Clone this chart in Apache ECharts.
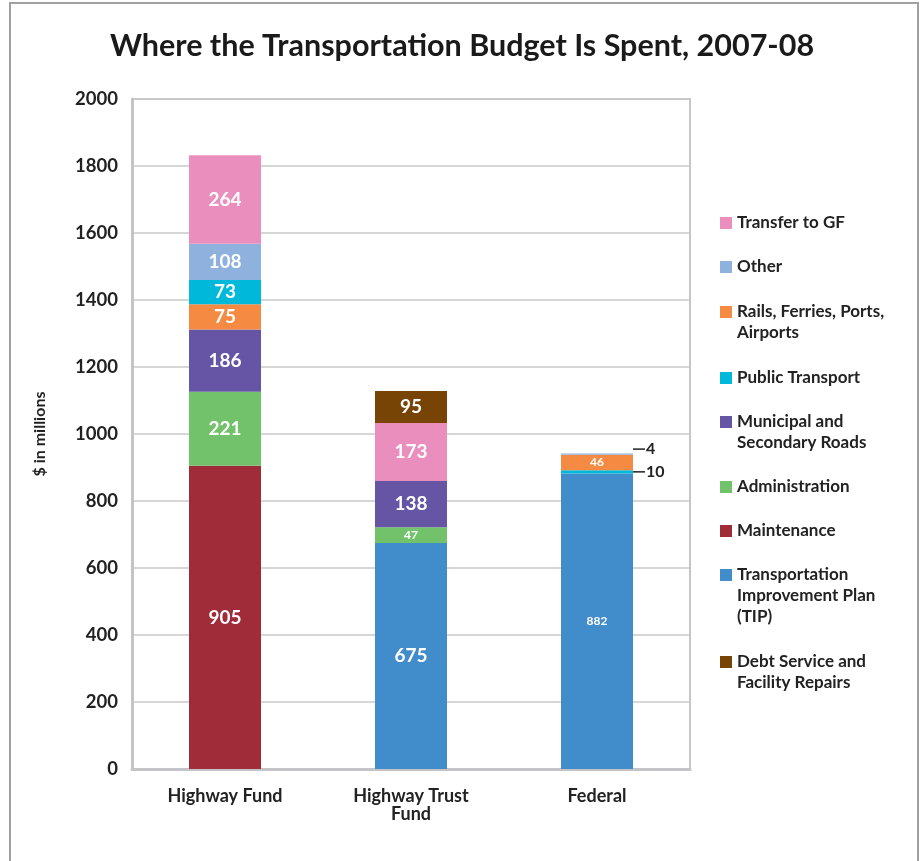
<!DOCTYPE html>
<html>
<head>
<meta charset="utf-8">
<script src="https://cdn.jsdelivr.net/npm/echarts@6/dist/echarts.min.js"></script>
<style>
html,body{margin:0;padding:0;background:#fff;}
#chart{width:924px;height:861px;}
</style>
</head>
<body>
<div id="chart"></div>
<script>
// ---- Data ----
var categories = ['Highway Fund', 'Highway Trust\nFund', 'Federal'];
var yTicks = [0, 200, 400, 600, 800, 1000, 1200, 1400, 1600, 1800, 2000];

var tip            = [null, 675, 882];
var maintenance    = [905, null, null];
var administration = [221, 47, null];
var municipal      = [186, 138, null];
var publicTransport= [73, null, 10];
var rails          = [75, null, 46];
var other          = [108, null, 4];
var transferGF     = [264, 173, null];
var debtService    = [null, 95, null];

var colors = {
  tip: '#418DCB', maintenance: '#A02C3A', administration: '#72C26C',
  municipal: '#6655A5', publicTransport: '#00B8D9', rails: '#F58B43',
  other: '#8EB2DD', transferGF: '#EA8FBD', debtService: '#784406'
};

var FONT = 'Lato, "Noto Sans", sans-serif';

function lbl(size) {
  return { show: true, position: 'inside', color: '#fff', fontSize: size, fontWeight: 'bold', fontFamily: FONT };
}
function outsideLabel(txt, dy) {
  return {
    show: true, position: 'right', distance: 0, offset: [0, dy],
    formatter: '{l|}{t|' + txt + '}',
    rich: {
      l: { width: 12, height: 1.5, backgroundColor: '#222', verticalAlign: 'middle' },
      t: { fontSize: 16, fontWeight: 'bold', color: '#222', fontFamily: FONT, verticalAlign: 'middle', padding: [0, 0, 0, 1] }
    }
  };
}
function pick(arr, idxs) { return arr.map(function (v, i) { return idxs.indexOf(i) >= 0 ? v : null; }); }
function withLabels(arr, labelFn) {
  return arr.map(function (v, i) { return v == null ? null : { value: v, label: labelFn(i) }; });
}

var series = [
  { name: 'Transportation Improvement Plan (TIP)', color: colors.tip,
    data: withLabels(tip, function (i) { return lbl(i === 2 ? 12 : 19); }) },
  { name: 'Maintenance', color: colors.maintenance, data: withLabels(maintenance, function () { return lbl(19); }) },
  { name: 'Administration', color: colors.administration,
    data: withLabels(administration, function (i) { return lbl(i === 1 ? 12 : 19); }) },
  { name: 'Municipal and Secondary Roads', color: colors.municipal, data: withLabels(municipal, function () { return lbl(19); }) },
  // Federal: public transport sits below rails
  { name: 'Public Transport', color: colors.publicTransport,
    data: withLabels(pick(publicTransport, [2]), function () { return outsideLabel('10', 0); }) },
  { name: 'Rails, Ferries, Ports, Airports', color: colors.rails,
    data: withLabels(rails, function (i) { return lbl(i === 2 ? 12 : 19); }) },
  // Highway Fund: public transport sits above rails
  { name: 'Public Transport', color: colors.publicTransport,
    data: withLabels(pick(publicTransport, [0]), function () { return lbl(19); }) },
  { name: 'Other', color: colors.other,
    data: withLabels(other, function (i) { return i === 2 ? outsideLabel('4', -5) : lbl(19); }) },
  { name: 'Transfer to GF', color: colors.transferGF, data: withLabels(transferGF, function () { return lbl(19); }) },
  { name: 'Debt Service and Facility Repairs', color: colors.debtService, data: withLabels(debtService, function () { return lbl(19); }) }
].map(function (s) {
  return {
    name: s.name, type: 'bar', stack: 'total', barWidth: 72,
    itemStyle: { color: s.color }, data: s.data, emphasis: { disabled: true }
  };
});

var legendItems = [
  { name: 'Transfer to GF', text: 'Transfer to GF', c: 223 },
  { name: 'Other', text: 'Other', c: 267 },
  { name: 'Rails, Ferries, Ports, Airports', text: 'Rails, Ferries, Ports,\nAirports', c: 312 },
  { name: 'Public Transport', text: 'Public Transport', c: 378 },
  { name: 'Municipal and Secondary Roads', text: 'Municipal and\nSecondary Roads', c: 422 },
  { name: 'Administration', text: 'Administration', c: 487 },
  { name: 'Maintenance', text: 'Maintenance', c: 531 },
  { name: 'Transportation Improvement Plan (TIP)', text: 'Transportation\nImprovement Plan\n(TIP)', c: 575 },
  { name: 'Debt Service and Facility Repairs', text: 'Debt Service and\nFacility Repairs', c: 662 }
];
var LH = 21;
var legends = legendItems.map(function (it) {
  var lines = it.text.split('\n').length;
  // leading blank lines so that the first text line is centred on the icon
  var shown = new Array(lines).join('\n') + it.text;
  var boxH = (2 * lines - 1) * LH;
  return {
    left: 720, top: it.c - boxH / 2, padding: 0, orient: 'vertical',
    itemWidth: 12, itemHeight: 12, icon: 'rect', selectedMode: false,
    data: [it.name],
    formatter: function () { return shown; },
    textStyle: { fontSize: 17, fontWeight: 'bold', color: '#222', fontFamily: FONT, lineHeight: LH }
  };
});

var option = {
  backgroundColor: '#fff',
  animation: false,
  title: {
    text: 'Where the Transportation Budget Is Spent, 2007-08',
    left: 'center', top: 26,
    textStyle: { fontSize: 30.5, fontWeight: 'bold', color: '#1a1a1a', fontFamily: FONT }
  },
  graphic: [{
    type: 'rect', shape: { x: 10, y: 3, width: 908, height: 900 },
    style: { fill: null, stroke: '#a0a0a0', lineWidth: 2 }, silent: true
  }],
  legend: legends,
  grid: { left: 132, right: 234, top: 99, bottom: 92, show: true, borderColor: '#c6c6ca', borderWidth: 2 },
  xAxis: {
    type: 'category', data: categories,
    axisTick: { show: false },
    axisLine: { lineStyle: { color: '#c4c4c8', width: 3 } },
    axisLabel: { color: '#222', fontSize: 18, fontWeight: 'bold', fontFamily: FONT, margin: 18, lineHeight: 18 }
  },
  yAxis: {
    type: 'value', min: yTicks[0], max: yTicks[yTicks.length - 1], interval: 200,
    name: '$ in millions', nameLocation: 'middle', nameGap: 84, nameRotate: 90,
    nameTextStyle: { fontSize: 16, fontWeight: 'bold', color: '#222', fontFamily: FONT },
    axisLine: { show: true, lineStyle: { color: '#c4c4c8', width: 3 } },
    axisTick: { show: false },
    axisLabel: { color: '#222', fontSize: 18.5, fontWeight: 'bold', fontFamily: FONT, margin: 14,
      formatter: function (v) { return String(v); } },
    splitLine: { lineStyle: { color: '#c8c8c8', width: 1.5 } }
  },
  series: series
};

var chart = echarts.init(document.getElementById('chart'), null, { renderer: 'canvas' });
chart.setOption(option);
</script>
</body>
</html>
